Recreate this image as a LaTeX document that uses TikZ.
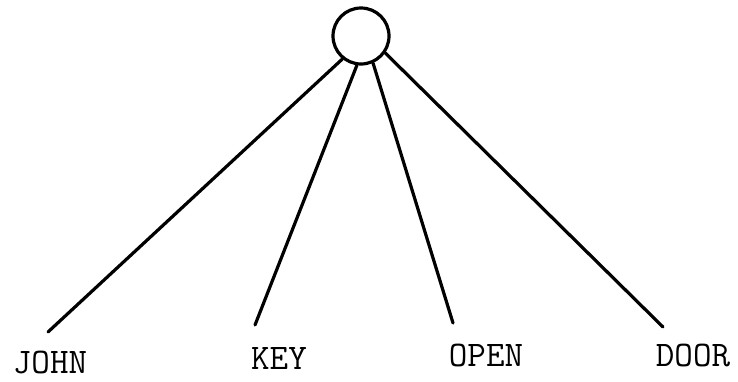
\documentclass[tikz,border=0pt]{standalone}
\begin{document}
\begin{tikzpicture}[x=1pt,y=-1pt,
  wire/.style={line width=3.2pt,line cap=round},
  lab/.style={font=\ttfamily\fontsize{36}{42}\selectfont,inner sep=0pt,anchor=center}]
\useasboundingbox (0,0) rectangle (738,381);
\node[draw,circle,line width=3.2pt,minimum size=56pt,inner sep=0pt] (c) at (361,36) {};
\coordinate (ej) at (48,332);
\coordinate (ek) at (255,325);
\coordinate (eo) at (453,323);
\coordinate (ed) at (663,327);
\draw[wire] (c.231) -- (ej);
\draw[wire] (c.262) -- (ek);
\draw[wire] (c.294) -- (eo);
\draw[wire] (c.325) -- (ed);
\node[lab] (john) at (50,362) {JOHN};
\node[lab] (key) at (279,358) {KEY};
\node[lab] (open) at (486,355) {OPEN};
\node[lab] (door) at (693,355) {DOOR};
\end{tikzpicture}
\end{document}
